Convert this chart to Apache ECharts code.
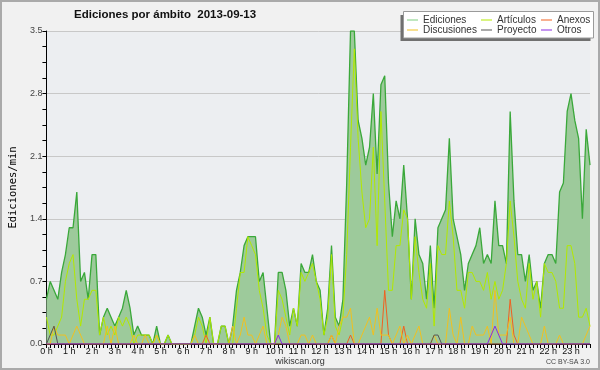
<!DOCTYPE html>
<html><head><meta charset="utf-8">
<script src="https://cdn.jsdelivr.net/npm/echarts@6/dist/echarts.min.js"></script>
<style>html,body{margin:0;padding:0;background:#f1f1f1}#c{width:600px;height:370px}</style>
</head><body><div id="c"></div><script>
const hourLabels = ['0 h','1 h','2 h','3 h','4 h','5 h','6 h','7 h','8 h','9 h','10 h','11 h','12 h','13 h','14 h','15 h','16 h','17 h','18 h','19 h','20 h','21 h','22 h','23 h'];
const slotMinutes = ['00','10','20','30','40','50'];
const categories = [];
for (let h = 0; h < hourLabels.length; h++) for (const m of slotMinutes) categories.push(h + ':' + m);
const yTicks = [0, 0.7, 1.4, 2.1, 2.8, 3.5];

const ediciones = [0.5,0.7,0.6,0.5,0.8,1.0,1.3,1.3,1.7,0.7,
 0.8,0.5,1.0,1.0,0.1,0.3,0.4,0.3,0.2,0.3,
 0.4,0.6,0.4,0.1,0.2,0.1,0.1,0.1,0,0.2,
 0,0,0.1,0,0,0,0,0,0,0.2,
 0.4,0.3,0.1,0.3,0,0,0.2,0.2,0,0.2,
 0.6,0.8,1.1,1.2,1.2,1.2,0.7,0.8,0.4,0,
 0,0.8,0.8,0.6,0.2,0.4,0.2,0.9,0.8,0.8,
 1.0,0.7,0.6,0.1,0.4,1.1,0.3,0.2,0.5,1.8,
 3.5,3.5,2.5,2.3,2.0,2.2,2.8,1.9,2.9,3.0,
 1.8,1.2,1.6,1.4,2.0,1.4,0.5,1.4,1.0,0.9,
 0.5,1.1,0.4,1.3,1.4,1.5,2.3,1.4,1.2,1.0,
 0.6,0.9,1.0,1.1,1.3,0.9,1.0,0.9,1.6,1.1,
 1.1,0.9,2.6,1.6,1.0,1.0,0.7,1.0,0.6,0.7,
 0.4,0.9,1.0,1.0,0.9,1.7,1.8,2.6,2.8,2.5,
 2.3,1.4,2.4,2.0];
const articulos = [0.3,0.1,0.1,0.2,0.3,0.7,0.9,1.0,0.5,0.2,
 0.5,0.5,0.6,0.6,0.1,0.3,0.1,0.2,0.1,0.3,
 0.2,0.3,0.2,0,0.1,0.1,0.1,0.1,0,0.1,
 0,0,0.1,0,0,0,0,0,0,0.1,
 0.3,0.2,0,0.3,0,0,0.2,0.2,0,0,
 0.4,0.8,0.8,1.2,1.1,1.0,0.6,0.4,0.1,0,
 0,0.6,0.5,0.3,0.1,0.4,0.2,0.8,0.7,0.8,
 0.9,0.7,0.5,0.1,0.3,1.0,0.2,0.1,0.3,1.0,
 2.2,3.3,2.3,1.7,1.3,1.4,2.2,1.1,2.6,1.6,
 0.6,0.6,1.1,1.1,1.5,1.4,0.5,1.2,0.8,0.5,
 0.4,0.9,0.2,1.1,1.0,1.0,1.6,1.2,0.6,0.6,
 0.4,0.8,0.8,0.7,0.7,0.6,0.8,0.5,0.7,0.5,
 0.6,0.9,1.6,1.2,0.7,0.5,0.4,0.9,0.5,0.7,
 0.3,0.9,0.8,0.8,0.7,0.4,0.4,1.1,1.1,0.9,
 0.3,0.3,0.4,0.2];
const discusiones = [0,0,0.2,0.1,0.1,0.1,0,0.1,0.2,0.1,
 0,0,0,0,0,0,0.2,0,0.2,0,
 0,0,0,0.1,0,0,0.1,0,0,0.1,
 0,0,0,0,0,0,0,0,0,0.1,
 0,0,0,0,0,0,0,0,0,0.2,
 0,0.1,0.3,0.1,0.1,0,0.1,0.2,0,0,
 0,0.1,0.3,0.2,0,0,0,0.1,0.1,0,
 0.1,0,0,0,0,0.1,0,0.2,0.3,0.3,
 0.4,0,0,0.1,0.2,0.3,0.1,0.4,0.1,0.1,
 0.1,0,0.1,0.2,0,0.1,0,0.1,0.2,0,
 0,0,0.1,0,0,0,0.4,0.1,0,0.3,
 0,0,0.2,0.1,0.1,0.1,0.2,0,0.6,0.1,
 0.1,0.1,0.3,0,0,0.3,0.2,0.1,0,0,
 0,0.2,0,0,0,0.1,0,0,0,0,
 0,0,0.1,0.2];
const anexos = [0,0,0,0,0,0,0,0,0,0,
 0,0,0,0,0,0,0,0,0,0,
 0,0,0,0,0,0,0,0,0,0,
 0,0,0,0,0,0,0,0,0,0,
 0,0,0.1,0,0,0,0,0,0,0,
 0,0,0,0,0,0,0,0,0,0,
 0,0,0,0,0,0,0,0,0,0,
 0,0,0,0,0,0.1,0,0,0,0,
 0.1,0,0,0,0,0,0,0,0,0.6,
 0.1,0,0,0,0.2,0,0,0,0,0,
 0,0,0,0,0,0,0,0,0,0,
 0,0,0,0,0,0,0,0,0,0,
 0,0,0.5,0.1,0,0,0,0,0,0,
 0,0,0,0,0,0,0,0,0,0,
 0,0,0,0];
const proyecto = [0,0.1,0.2,0,0,0,0,0,0,0,
 0,0,0,0,0,0,0,0,0,0,
 0,0,0,0,0,0,0,0,0,0,
 0,0,0,0,0,0,0,0,0,0,
 0,0,0,0,0,0,0,0,0,0,
 0,0,0,0,0,0,0,0,0,0,
 0,0,0,0,0,0,0,0,0,0,
 0,0,0,0,0,0,0,0,0,0,
 0,0,0,0,0,0,0,0,0,0,
 0,0,0,0,0,0,0,0,0,0,
 0,0,0.1,0.1,0,0,0,0,0,0,
 0,0,0,0,0,0,0,0,0,0,
 0,0,0,0,0,0,0,0,0,0,
 0,0,0,0,0,0,0,0,0,0,
 0,0,0,0];
const otros = [0,0,0,0,0,0,0,0,0,0,
 0,0,0,0,0,0,0,0,0,0,
 0,0,0,0,0,0,0,0,0,0,
 0,0,0,0,0,0,0,0,0,0,
 0,0,0,0,0,0,0,0,0,0,
 0,0,0,0,0,0,0,0,0,0,
 0,0.1,0,0,0,0,0,0,0,0,
 0,0,0,0,0,0,0,0,0,0,
 0,0,0,0,0,0,0,0,0,0,
 0,0,0,0,0,0,0,0,0,0,
 0,0,0,0,0,0,0,0,0,0,
 0,0,0,0,0,0,0,0.1,0.2,0.1,
 0,0,0,0,0,0,0,0,0,0,
 0,0,0,0,0,0,0,0,0,0,
 0,0,0,0];

const chart = echarts.init(document.getElementById('c'), null, {renderer:'canvas'});
const lineSeries = (name, data, color, z) => ({
  name, type:'line', data, symbol:'none', color, z,
  lineStyle:{color, width:1}, itemStyle:{color}, emphasis:{disabled:true}
});
const legendBase = {
  orient:'vertical', top:15, padding:0, itemGap:0, itemWidth:11, itemHeight:1, icon:'rect',
  itemStyle:{borderWidth:0},
  textStyle:{fontFamily:'Liberation Sans', fontSize:10, color:'#333', lineHeight:10, padding:[0,0,0,0]},
  z:30, selectedMode:false
};
chart.setOption({
  animation:false,
  backgroundColor:'#f1f1f1',
  grid:{left:46, right:10, top:31, bottom:26, show:true, backgroundColor:'#eceef1', borderWidth:0},
  legend:[
    Object.assign({}, legendBase, {left:407, data:[{name:'Ediciones', itemStyle:{color:'#7fcf7f'}}, 'Discusiones']}),
    Object.assign({}, legendBase, {left:481, data:['Artículos','Proyecto']}),
    Object.assign({}, legendBase, {left:541, data:['Anexos','Otros']})
  ],
  xAxis:{type:'category', data:categories, boundaryGap:false,
    axisLine:{lineStyle:{color:'#000', width:1}},
    axisTick:{show:true, interval:0, length:4, lineStyle:{color:'#000'}},
    axisLabel:{interval:5, margin:3, fontSize:9, color:'#111', fontFamily:'Liberation Sans',
      formatter:(v,i)=>hourLabels[Math.floor(i/slotMinutes.length)]},
    splitLine:{show:false}},
  yAxis:{type:'value', min:yTicks[0], max:yTicks[yTicks.length-1], interval:yTicks[1]-yTicks[0],
    name:'Ediciones/min', nameLocation:'middle', nameGap:27,
    nameTextStyle:{fontFamily:'DejaVu Sans Mono', fontSize:10.5, color:'#000'},
    axisLine:{show:true, lineStyle:{color:'#000'}},
    axisTick:{show:true, length:4, lineStyle:{color:'#000'}},
    minorTick:{show:true, splitNumber:4, length:4, lineStyle:{color:'#000'}},
    axisLabel:{margin:4, fontSize:9, color:'#444', fontFamily:'Liberation Sans', formatter:v=>v.toFixed(1)},
    splitLine:{lineStyle:{color:'#c8c8c8', width:1}}},
  series:[
    Object.assign(lineSeries('Ediciones', ediciones, '#3aa83a', 2), {lineStyle:{color:'#3aa83a', width:1.3}, areaStyle:{color:'#9dca9b', opacity:1}}),
    lineSeries('Artículos', articulos, '#b2e800', 3),
    lineSeries('Anexos', anexos, '#f06020', 4),
    lineSeries('Discusiones', discusiones, '#f0c020', 5),
    lineSeries('Proyecto', proyecto, '#555555', 6),
    lineSeries('Otros', otros, '#8a2be2', 7)
  ],
  graphic:[
    {type:'rect', z:100, silent:true, shape:{x:1, y:1, width:598, height:368}, style:{fill:'none', stroke:'#aaaaaa', lineWidth:2}},
    {type:'rect', z:20, silent:true, shape:{x:400.5, y:15, width:190, height:26}, style:{fill:'#707070'}},
    {type:'rect', z:21, silent:true, shape:{x:403.5, y:11.5, width:190, height:26.5}, style:{fill:'#ffffff', stroke:'#9a9a9a', lineWidth:1}},
    {type:'text', z:50, silent:true, x:74, y:15, style:{text:'Ediciones por ámbito  2013-09-13', fontFamily:'Liberation Sans', fontSize:11.5, fontWeight:'bold', fill:'#111', verticalAlign:'middle'}},
    {type:'text', z:50, silent:true, x:300, y:362, style:{text:'wikiscan.org', fontFamily:'Liberation Sans', fontSize:9, fill:'#333', align:'center', verticalAlign:'middle'}},
    {type:'text', z:50, silent:true, x:590, y:362, style:{text:'CC BY-SA 3.0', fontFamily:'Liberation Sans', fontSize:7, fill:'#444', align:'right', verticalAlign:'middle'}}
  ]
});
</script></body></html>
